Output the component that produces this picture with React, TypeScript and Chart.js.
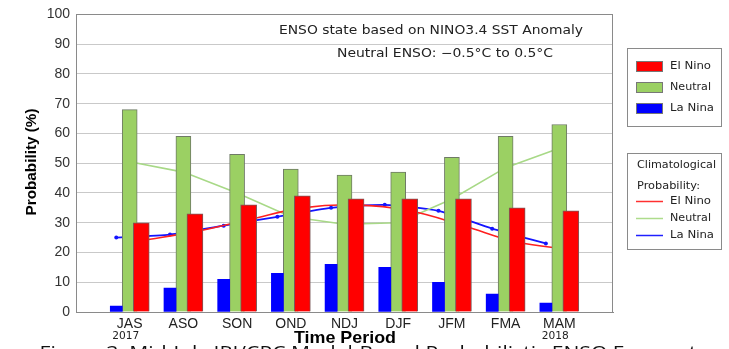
import React, { useEffect, useRef } from "react";
import { Chart, registerables } from "chart.js";

Chart.register(...registerables);

const categories = ["JAS", "ASO", "SON", "OND", "NDJ", "DJF", "JFM", "FMA", "MAM"];
const yearLabels = ["2017", "", "", "", "", "", "", "", "2018"];
const elNino = [30, 33, 36, 39, 38, 38, 38, 35, 34];
const neutral = [68, 59, 53, 48, 46, 47, 52, 59, 63];
const laNina = [2, 8, 11, 13, 16, 15, 10, 6, 3];
const climElNino = [24, 27, 31, 35, 36, 34, 29, 23.5, 21];
const climNeutral = [50.5, 47, 40, 32, 29.5, 30, 38, 48.5, 55];
const climLaNina = [25, 26, 29, 32, 35, 36, 34, 28, 23];
const yMin = 0;
const yMax = 100;
const yStep = 10;

const FONT = "'Liberation Sans', Arial, sans-serif";
const WIDE = "'DejaVu Sans', 'Liberation Sans', sans-serif";
const LEFT_OFF = -0.25;
const RIGHT_OFF = 0.215;

const RED = "#ff0000";
const GREEN = "#9bd063";
const BLUE = "#0000ff";

function stretchText(
  ctx: CanvasRenderingContext2D,
  text: string,
  x: number,
  y: number,
  font: string,
  width: number,
  align: "left" | "right" | "center"
) {
  ctx.save();
  ctx.font = font;
  ctx.textBaseline = "middle";
  ctx.textAlign = "left";
  const w = ctx.measureText(text).width;
  const sx = width / w;
  let left = x;
  if (align === "right") left = x - width;
  if (align === "center") left = x - width / 2;
  ctx.translate(left, y);
  ctx.scale(sx, 1);
  ctx.fillText(text, 0, 0);
  ctx.restore();
}

const decorPlugin = {
  id: "decor",
  beforeDraw(chart: any) {
    const ctx = chart.ctx;
    ctx.save();
    ctx.fillStyle = "#ffffff";
    ctx.fillRect(0, 0, chart.width, chart.height);
    ctx.restore();
  },
  afterDraw(chart: any) {
    const ctx: CanvasRenderingContext2D = chart.ctx;
    const a = chart.chartArea;
    const xs = chart.scales.x;
    ctx.save();
    ctx.strokeStyle = "#8a8a8a";
    ctx.lineWidth = 1;
    ctx.strokeRect(Math.round(a.left) + 0.5, Math.round(a.top) + 0.5, Math.round(a.right - a.left) - 1, Math.round(a.bottom - a.top));

    ctx.fillStyle = "#222";
    stretchText(ctx, "ENSO state based on NINO3.4 SST Anomaly", 583, 31, `12px ${WIDE}`, 304, "right");
    stretchText(ctx, "Neutral ENSO: \u22120.5\u00B0C to 0.5\u00B0C", 553, 54, `12px ${WIDE}`, 216, "right");

    categories.forEach((c, i) => {
      if (!yearLabels[i]) return;
      const px = xs.getPixelForValue(i + 1);
      stretchText(ctx, yearLabels[i], px - 4, 336, `10px ${WIDE}`, 27, "center");
    });

    ctx.fillStyle = "#111";
    stretchText(ctx, "Figure 3. Mid-July IRI/CPC Model-Based Probabilistic ENSO Forecast", 368, 354, `18px 'Open Sans', ${FONT}`, 657, "center");

    ctx.fillStyle = "#000";
    stretchText(ctx, "Time Period", 345, 338, `bold 17px ${FONT}`, 102, "center");
    ctx.save();
    ctx.translate(32, 162);
    ctx.rotate(-Math.PI / 2);
    stretchText(ctx, "Probability (%)", 0, 0, `bold 15px ${FONT}`, 107, "center");
    ctx.restore();

    ctx.strokeStyle = "#8a8a8a";
    ctx.strokeRect(627.5, 48.5, 94, 78);
    const sw = [
      { c: RED, t: "El Nino", y: 66 },
      { c: GREEN, t: "Neutral", y: 87 },
      { c: BLUE, t: "La Nina", y: 108 },
    ];
    sw.forEach((s) => {
      ctx.fillStyle = s.c;
      ctx.fillRect(636, s.y - 5, 26, 10);
      ctx.strokeStyle = "#777";
      ctx.strokeRect(636.5, s.y - 4.5, 26, 10);
      ctx.fillStyle = "#222";
      stretchText(ctx, s.t, 670, s.y, `11px ${WIDE}`, s.t === "La Nina" ? 44 : 41, "left");
    });

    ctx.strokeStyle = "#8a8a8a";
    ctx.strokeRect(627.5, 153.5, 94, 96);
    ctx.fillStyle = "#222";
    stretchText(ctx, "Climatological", 637, 165, `11px ${WIDE}`, 79, "left");
    stretchText(ctx, "Probability:", 637, 186, `11px ${WIDE}`, 63, "left");
    const ln = [
      { c: "#ff3030", t: "El Nino", y: 201 },
      { c: "#aedc8c", t: "Neutral", y: 218 },
      { c: "#2020ff", t: "La Nina", y: 235 },
    ];
    ln.forEach((s) => {
      ctx.strokeStyle = s.c;
      ctx.lineWidth = 1.5;
      ctx.beginPath();
      ctx.moveTo(636, s.y + 0.5);
      ctx.lineTo(663, s.y + 0.5);
      ctx.stroke();
      ctx.fillStyle = "#222";
      stretchText(ctx, s.t, 670, s.y, `11px ${WIDE}`, s.t === "La Nina" ? 44 : 41, "left");
    });
    ctx.restore();
  },
};

export default function App() {
  const canvasRef = useRef<HTMLCanvasElement | null>(null);

  useEffect(() => {
    if (!canvasRef.current) return;
    const pts = (arr: number[], off: number) => arr.map((v, i) => ({ x: i + 1 + off, y: v }));

    const chart = new Chart(canvasRef.current, {
      type: "bar",
      data: {
        datasets: [
          {
            type: "bar",
            label: "La Nina",
            data: pts(laNina, LEFT_OFF),
            backgroundColor: BLUE,
            borderWidth: 0,
            grouped: false,
            barThickness: 12,
            order: 0,
          },
          {
            type: "bar",
            label: "El Nino",
            data: pts(elNino, RIGHT_OFF),
            backgroundColor: RED,
            borderColor: "#7a5a5a",
            borderWidth: 1,
            grouped: false,
            barThickness: 16,
            order: 0,
          },
          {
            type: "bar",
            label: "Neutral",
            data: pts(neutral, 0),
            backgroundColor: GREEN,
            borderColor: "#6f7a66",
            borderWidth: 1,
            grouped: false,
            barThickness: 15,
            order: 0,
          },
          {
            type: "line",
            label: "Clim El Nino",
            data: pts(climElNino, RIGHT_OFF),
            borderColor: "#ff2020",
            borderWidth: 1.6,
            pointRadius: 0,
            tension: 0.4,
            order: 1,
          },
          {
            type: "line",
            label: "Clim Neutral",
            data: pts(climNeutral, 0),
            borderColor: "#a8d987",
            borderWidth: 1.6,
            pointRadius: 0,
            tension: 0,
            order: 1,
          },
          {
            type: "line",
            label: "Clim La Nina",
            data: pts(climLaNina, LEFT_OFF),
            borderColor: "#1414ff",
            backgroundColor: "#1414ff",
            borderWidth: 1.8,
            pointRadius: 2,
            pointBorderWidth: 0,
            tension: 0.2,
            order: 1,
          },
        ] as any,
      },
      options: {
        responsive: true,
        maintainAspectRatio: false,
        animation: false,
        layout: { padding: { left: 0, right: 116, top: 12, bottom: 0 } },
        plugins: { legend: { display: false }, tooltip: { enabled: false } },
        scales: {
          x: {
            type: "linear",
            min: 0,
            max: categories.length + 1,
            offset: false,
            grid: { display: false, drawTicks: false },
            border: { display: true, color: "#8a8a8a" },
            ticks: {
              stepSize: 1,
              color: "#222",
              font: { family: FONT, size: 14 },
              padding: 4,
              autoSkip: false,
              maxRotation: 0,
              callback: (v: any) => categories[Number(v) - 1] || "",
            },
            afterFit: (s: any) => {
              s.height = 37;
            },
          },
          y: {
            min: yMin,
            max: yMax,
            ticks: {
              stepSize: yStep,
              color: "#333",
              font: { family: FONT, size: 14 },
              padding: 6,
            },
            grid: { color: "#c9c9c9", drawTicks: false },
            border: { display: true, color: "#8a8a8a" },
            afterFit: (s: any) => {
              s.width = 76;
            },
          },
        },
      } as any,
      plugins: [decorPlugin],
    });
    return () => chart.destroy();
  }, []);

  return (
    <div style={{ position: "absolute", left: 0, top: 0, width: 729, height: 349, overflow: "hidden" }}>
      <canvas ref={canvasRef} style={{ display: "block" }} />
    </div>
  );
}
